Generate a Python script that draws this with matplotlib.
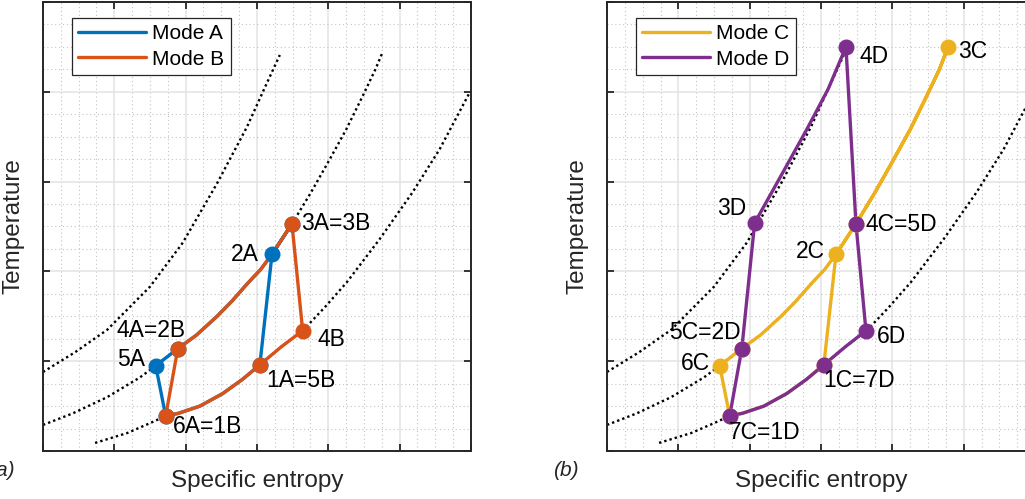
import matplotlib
matplotlib.use("Agg")
import matplotlib.pyplot as plt
from matplotlib.ticker import MultipleLocator, AutoMinorLocator

plt.rcParams['font.family'] = ['Liberation Sans', 'DejaVu Sans']

# dotted isobars, same in both panels (entropy, temperature in grid units)
iso1_s = [0.00, 0.45, 0.90, 1.50, 1.96, 2.44, 2.86, 3.14, 3.32]
iso1_T = [0.88, 1.10, 1.35, 1.83, 2.32, 2.98, 3.61, 4.10, 4.41]
iso2_s = [0.00, 0.42, 0.90, 1.36, 1.58, 1.89, 2.15, 2.44, 2.65, 2.86, 3.05, 3.21, 3.49,
          3.75, 4.00, 4.25, 4.48, 4.66, 4.75]
iso2_T = [0.29, 0.42, 0.60, 0.82, 0.95, 1.14, 1.29, 1.50, 1.67, 1.86, 2.02, 2.19, 2.53,
          2.87, 3.22, 3.58, 3.95, 4.25, 4.42]
iso3_s = [0.73, 1.18, 1.50, 1.72, 1.90, 2.20, 2.52, 2.80, 3.04, 3.34, 3.64, 3.95, 4.26,
          4.72, 5.18, 5.56, 5.98]
iso3_T = [0.09, 0.20, 0.31, 0.39, 0.42, 0.50, 0.64, 0.80, 0.96, 1.16, 1.34, 1.60, 1.88,
          2.36, 2.88, 3.36, 3.99]

# cycle paths
mode_a_s = [3.04, 3.21, 3.49, 3.21, 3.05, 2.86, 2.65, 2.44, 2.15, 1.89, 1.58, 1.72,
            1.90, 2.20, 2.52, 2.80, 3.04]
mode_a_T = [0.96, 2.19, 2.53, 2.19, 2.02, 1.86, 1.67, 1.50, 1.29, 1.14, 0.95, 0.39,
            0.42, 0.50, 0.64, 0.80, 0.96]
mode_a_pts_s = [3.04, 3.21, 3.49, 1.89, 1.58, 1.72]
mode_a_pts_T = [0.96, 2.19, 2.53, 1.14, 0.95, 0.39]

mode_b_s = [1.72, 1.89, 2.15, 2.44, 2.65, 2.86, 3.05, 3.21, 3.49, 3.64, 3.34, 3.04,
            2.80, 2.52, 2.20, 1.90, 1.72]
mode_b_T = [0.39, 1.14, 1.29, 1.50, 1.67, 1.86, 2.02, 2.19, 2.53, 1.34, 1.16, 0.96,
            0.80, 0.64, 0.50, 0.42, 0.39]
mode_b_pts_s = [1.72, 1.89, 3.49, 3.64, 3.04]
mode_b_pts_T = [0.39, 1.14, 2.53, 1.34, 0.96]

mode_c_s = [3.04, 3.21, 3.49, 3.75, 4.00, 4.25, 4.48, 4.66, 4.78, 4.66, 4.48, 4.25,
            4.00, 3.75, 3.49, 3.21, 3.05, 2.86, 2.65, 2.44, 2.15, 1.89, 1.58, 1.72,
            1.90, 2.20, 2.52, 2.80, 3.04]
mode_c_T = [0.96, 2.19, 2.53, 2.87, 3.22, 3.58, 3.95, 4.25, 4.50, 4.25, 3.95, 3.58,
            3.22, 2.87, 2.53, 2.19, 2.02, 1.86, 1.67, 1.50, 1.29, 1.14, 0.95, 0.39,
            0.42, 0.50, 0.64, 0.80, 0.96]
mode_c_pts_s = [3.04, 3.21, 4.78, 3.49, 1.89, 1.58, 1.72]
mode_c_pts_T = [0.96, 2.19, 4.50, 2.53, 1.14, 0.95, 0.39]

mode_d_s = [1.72, 1.89, 2.07, 2.45, 2.80, 3.10, 3.35, 3.49, 3.63, 3.34, 3.04, 2.80,
            2.52, 2.20, 1.90, 1.72]
mode_d_T = [0.39, 1.14, 2.54, 3.08, 3.58, 4.03, 4.50, 2.53, 1.34, 1.16, 0.96, 0.80,
            0.64, 0.50, 0.42, 0.39]
mode_d_pts_s = [1.72, 1.89, 2.07, 3.35, 3.49, 3.63, 3.04]
mode_d_pts_T = [0.39, 1.14, 2.54, 4.50, 2.53, 1.34, 0.96]

# state labels
left_labels = ['1A=5B', '2A', '3A=3B', '4A=2B', '5A', '6A=1B', '4B']
left_lbl_s = [3.04, 3.21, 3.49, 1.89, 1.58, 1.72, 3.64]
left_lbl_T = [0.96, 2.19, 2.53, 1.14, 0.95, 0.39, 1.34]
left_offsets = [(6, -16, 'left'), (-13, 0, 'right'), (9, 0, 'left'), (-27, 18, 'center'),
                (-11, 6, 'right'), (7, -11, 'left'), (15, -9, 'left')]

right_labels = ['1C=7D', '2C', '3C', '4C=5D', '5C=2D', '6C', '7C=1D', '3D', '4D', '6D']
right_lbl_s = [3.04, 3.21, 4.78, 3.49, 1.89, 1.58, 1.72, 2.07, 3.35, 3.63]
right_lbl_T = [0.96, 2.19, 4.50, 2.53, 1.14, 0.95, 0.39, 2.54, 4.50, 1.34]
right_offsets = [(-1, -16, 'left'), (-11, 3, 'right'), (10, -5, 'left'), (10, -1, 'left'),
                 (-1, 16, 'right'), (-10, 2, 'right'), (-1, -17, 'left'), (-8, 14, 'right'),
                 (14, -10, 'left'), (11, -6, 'left')]

col_a, col_b, col_c, col_d = '#0072BD', '#D95319', '#EDB120', '#7E2F8E'
edge = '#262626'


def setup_axes(ax):
    ax.set_xlim(0, 6)
    ax.set_ylim(0, 5)
    ax.xaxis.set_major_locator(MultipleLocator(1))
    ax.yaxis.set_major_locator(MultipleLocator(1))
    ax.xaxis.set_minor_locator(AutoMinorLocator(4))
    ax.yaxis.set_minor_locator(AutoMinorLocator(4))
    ax.grid(which='major', color='#e3e3e3', lw=1.1, ls='-')
    ax.grid(which='minor', color='#c4c4c4', lw=0.8, ls=(0, (1, 2.5)))
    ax.set_axisbelow(True)
    ax.tick_params(which='major', direction='in', top=True, right=True, length=5,
                   width=1.3, color=edge, labelbottom=False, labelleft=False)
    ax.tick_params(which='minor', length=0)
    for sp in ax.spines.values():
        sp.set_color(edge)
        sp.set_linewidth(1.4)
    for s, T in [(iso1_s, iso1_T), (iso2_s, iso2_T), (iso3_s, iso3_T)]:
        ax.plot(s, T, color='black', lw=1.7, ls=(0, (1, 1.3)), zorder=2)
    ax.set_xlabel('Specific entropy', fontsize=17.5, color=edge, labelpad=10)
    ax.set_ylabel('Temperature', fontsize=17.5, color=edge, labelpad=10)


def draw_mode(ax, s, T, ps, pT, color, label):
    ax.plot(s, T, color=color, lw=2.4, label=label, zorder=3,
            solid_joinstyle='round', solid_capstyle='round')
    ax.plot(ps, pT, 'o', color=color, ms=10.5, zorder=4)


def put_labels(ax, labels, ls, lT, offsets):
    for txt, s, T, (dx, dy, ha) in zip(labels, ls, lT, offsets):
        ax.annotate(txt, (s, T), xytext=(dx, dy), textcoords='offset pixels',
                    ha=ha, va='center', fontsize=16.5, color='black', zorder=5)


fig = plt.figure(figsize=(10.25, 4.99), dpi=100)
ax1 = fig.add_axes([43 / 1025, 48 / 499, 428 / 1025, 449 / 499])
ax2 = fig.add_axes([607 / 1025, 48 / 499, 428 / 1025, 449 / 499])

for ax in (ax1, ax2):
    setup_axes(ax)

draw_mode(ax1, mode_a_s, mode_a_T, mode_a_pts_s, mode_a_pts_T, col_a, 'Mode A')
draw_mode(ax1, mode_b_s, mode_b_T, mode_b_pts_s, mode_b_pts_T, col_b, 'Mode B')
put_labels(ax1, left_labels, left_lbl_s, left_lbl_T, left_offsets)

draw_mode(ax2, mode_c_s, mode_c_T, mode_c_pts_s, mode_c_pts_T, col_c, 'Mode C')
draw_mode(ax2, mode_d_s, mode_d_T, mode_d_pts_s, mode_d_pts_T, col_d, 'Mode D')
put_labels(ax2, right_labels, right_lbl_s, right_lbl_T, right_offsets)

for ax in (ax1, ax2):
    leg = ax.legend(loc='upper left', bbox_to_anchor=(0.068, 0.964), borderaxespad=0,
                    fontsize=15, handlelength=3.25, handletextpad=0.3, labelspacing=0.3,
                    borderpad=0.3, fancybox=False, framealpha=1)
    leg.get_frame().set_edgecolor(edge)
    leg.get_frame().set_linewidth(0.9)

fig.text(-11 / 1025, 1 - 470 / 499, '(a)', fontsize=15, style='italic', color=edge,
         ha='left', va='center')
fig.text(553 / 1025, 1 - 470 / 499, '(b)', fontsize=15, style='italic', color=edge,
         ha='left', va='center')

fig.savefig('out.png', dpi=100)
